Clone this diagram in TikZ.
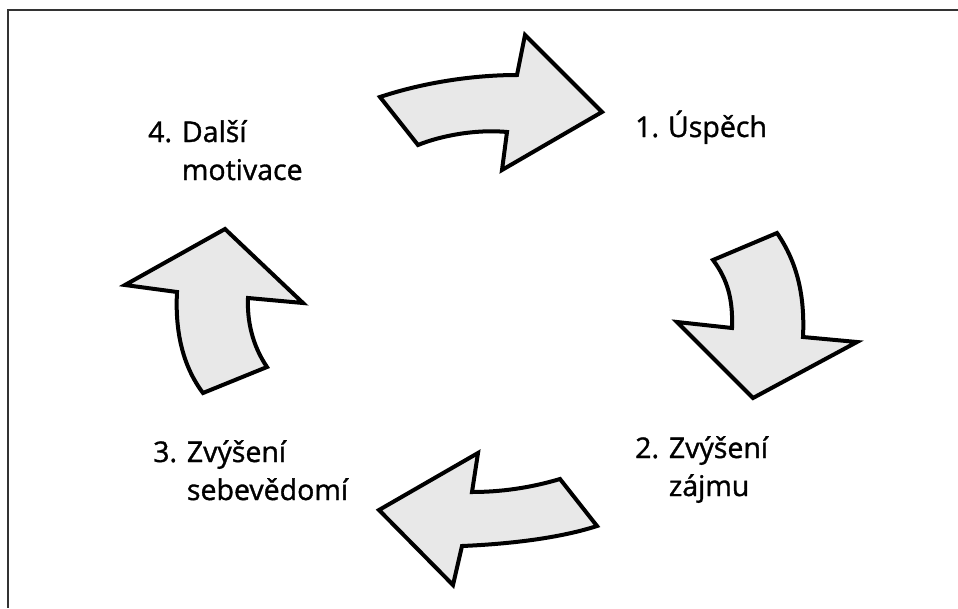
\documentclass[tikz,border=0pt]{standalone}
\usepackage{fontspec}
\setmainfont{Open Sans}
\newfontfamily\steplabelfont[FakeBold=1.2]{Open Sans}
\begin{document}
\begin{tikzpicture}[x=1pt,y=-1pt,
  cyclearrow/.style={draw=black,line width=4pt,line join=miter,fill=black!9},
  steplabel/.style={anchor=base west,inner sep=0pt,font=\steplabelfont\fontsize{28.5}{38}\selectfont},
  frameline/.style={draw=black!80,line width=2pt}]
\useasboundingbox (0,0) rectangle (958,608);
% open frame: top and left edges only
\draw[frameline] (958,10) -- (8,10) -- (8,608);

% arrow 1: towards "Úspěch"
\path[cyclearrow] (380,97) .. controls (425,82) and (475,75) .. (517,75)
  -- (525,35) -- (602,112) -- (502,170) -- (507,132)
  .. controls (475,129) and (440,136) .. (418,145) -- cycle;
% arrow 2: down the right side
\path[cyclearrow] (713,260) -- (777,233)
  .. controls (797,262) and (805,295) .. (803,337)
  -- (857,342) -- (753,398) -- (677,322) -- (732,328)
  .. controls (733,300) and (728,280) .. (713,260) -- cycle;
% arrow 3: leftwards along the bottom
\path[cyclearrow] (560,479) .. controls (530,488) and (500,492) .. (472,492)
  -- (478,453) -- (379,510) -- (453,585) -- (462,546)
  .. controls (510,544) and (560,538) .. (597,526) -- cycle;
% arrow 4: up the left side
\path[cyclearrow] (203,393) -- (267,367)
  .. controls (252,345) and (247,320) .. (248,298)
  -- (303,303) -- (225,229) -- (125,285) -- (177,292)
  .. controls (175,330) and (182,365) .. (203,393) -- cycle;

% step labels
\node[steplabel] (s1) at (635,137) {\begin{tabular}[t]{@{}l@{\hspace{9pt}}l@{}}1. & Úspěch\end{tabular}};
\node[steplabel] (s2) at (635,458) {\begin{tabular}[t]{@{}l@{ }l@{}}2. & Zvýšení\\ & zájmu\end{tabular}};
\node[steplabel] (s3) at (153,462) {\begin{tabular}[t]{@{}l@{ }l@{}}3. & Zvýšení\\ & sebevědomí\end{tabular}};
\node[steplabel] (s4) at (148,142) {\begin{tabular}[t]{@{}l@{ }l@{}}4. & Další\\ & motivace\end{tabular}};
\end{tikzpicture}
\end{document}
